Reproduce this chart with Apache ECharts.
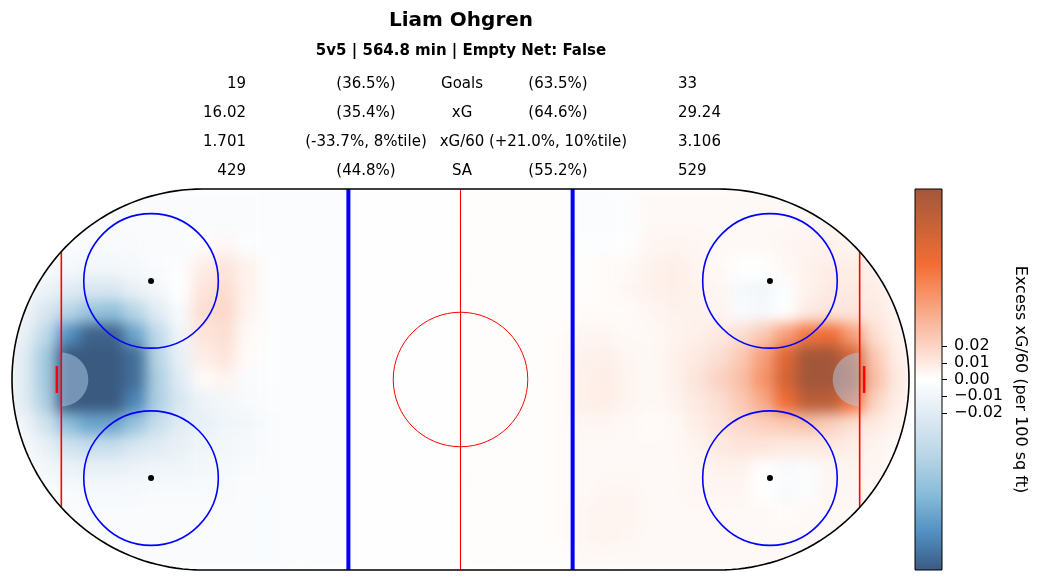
<!DOCTYPE html>
<html><head><meta charset="utf-8">
<script src="https://cdn.jsdelivr.net/npm/echarts@6/dist/echarts.min.js"></script>
<style>
html,body{margin:0;padding:0;background:#fff;}
#wrap{position:relative;width:1041px;height:582px;overflow:hidden;}
#heat,#main{position:absolute;left:0;top:0;width:1041px;height:582px;}
#heat{filter:blur(7px);}
</style></head><body>
<div id="wrap"><div id="heat"></div><div id="main"></div></div>
<script>
// ---------------- data ----------------
const playerName = 'Liam Ohgren';
const subtitle = '5v5 | 564.8 min | Empty Net: False';
const leftValues  = ['19', '16.02', '1.701', '429'];
const leftShares  = ['(36.5%)', '(35.4%)', '(-33.7%, 8%tile)', '(44.8%)'];
const statLabels  = ['Goals', 'xG', 'xG/60', 'SA'];
const rightShares = ['(63.5%)', '(64.6%)', '(+21.0%, 10%tile)', '(55.2%)'];
const rightValues = ['33', '29.24', '3.106', '529'];

const colorbarLabel = 'Excess xG/60 (per 100 sq ft)';
const colorbarTicks = [-0.02, -0.01, 0, 0.01, 0.02];
const VMIN = -0.114, VMAX = 0.114;
const cmapColors = ['#3a5a80','#5290c2','#88bcd9','#b8d5e6','#dde9f2','#ffffff','#fbcebc','#f79e78','#f46d35','#ca6236','#a3573a'];

// grid cell centres (ft)
const xCenters = [-97.5,-92.5,-87.5,-82.5,-77.5,-72.5,-67.5,-62.5,-57.5,-52.5,-47.5,-42.5,-37.5,-32.5,-27.5,-22.5,-17.5,-12.5,-7.5,-2.5,
                  2.5,7.5,12.5,17.5,22.5,27.5,32.5,37.5,42.5,47.5,52.5,57.5,62.5,67.5,72.5,77.5,82.5,87.5,92.5,97.5];
const yCenters = [40,35,30,25,20,15,10,5,0,-5,-10,-15,-20,-25,-30,-35,-40];

// excess xG/60 per cell, one row per yCenter (top to bottom)
const row_p40 = [0,0,0,0,-0.003,-0.004,-0.004,-0.004,-0.004,-0.004,-0.004,-0.003,-0.003,-0.003,-0.003,-0.001,-0.001,-0.001,-0.001,-0.001, 0.001,0.001,0.001,0.001,0.001,-0.003,-0.003,-0.002,0.003,0.003,0.003,0.003,0.003,0.003,0.003,0.003,0,0,0,0];
const row_p35 = [0,0,0,-0.003,-0.004,-0.004,-0.004,-0.004,-0.004,-0.004,-0.004,-0.003,-0.003,-0.003,-0.003,-0.001,-0.001,-0.001,-0.001,-0.001, 0.001,0.001,0.001,0.001,0.001,-0.003,-0.003,-0.002,0.003,0.003,0.003,0.003,0.003,0.003,0.003,0.004,0.004,0.003,0,0];
const row_p30 = [0,0,-0.004,-0.005,-0.005,-0.005,-0.004,-0.004,-0.002,0.004,-0.002,-0.003,-0.003,-0.003,-0.003,-0.001,-0.001,-0.001,-0.001,-0.001, 0.001,0.001,0.001,0.001,0.001,-0.002,-0.002,-0.001,0.004,0.005,0.004,0.003,0.003,0.003,0.004,0.005,0.006,0.005,0.004,0];
const row_p25 = [0,-0.004,-0.006,-0.008,-0.008,-0.006,-0.004,-0.002,0.008,0.012,0.006,-0.002,-0.003,-0.003,-0.003,-0.001,-0.001,-0.001,-0.001,-0.001, 0.001,0.001,0.001,0.001,0.001,0.001,0.002,0.003,0.006,0.008,0.005,0.003,0,0,0.003,0.006,0.008,0.008,0.006,0];
const row_p20 = [-0.005,-0.012,-0.02,-0.025,-0.025,-0.015,-0.008,0,0.012,0.016,0.006,-0.002,-0.003,-0.003,-0.003,-0.001,-0.001,-0.001,-0.001,-0.001, 0.001,0.001,0.001,0.001,0.001,0.001,0.002,0.004,0.006,0.008,0.006,0.004,-0.006,-0.008,-0.002,0.006,0.01,0.01,0.008,0.003];
const row_p15 = [-0.01,-0.025,-0.045,-0.06,-0.065,-0.045,-0.02,-0.005,0.015,0.018,0.005,-0.002,-0.003,-0.003,-0.003,-0.001,-0.001,-0.001,-0.001,-0.001, 0.001,0.001,0.001,0.001,0.001,0.002,0.002,0.002,0.004,0.006,0.006,0.005,-0.004,-0.006,0,0.01,0.012,0.012,0.01,0.005];
const row_p10 = [-0.015,-0.04,-0.09,-0.11,-0.11,-0.08,-0.04,-0.01,0.012,0.015,0.003,-0.002,-0.003,-0.003,-0.003,-0.001,-0.001,-0.001,-0.001,-0.001, 0.001,0.001,0.001,0.001,0.002,0.004,0.004,0.003,0.003,0.005,0.007,0.01,0.015,0.025,0.045,0.065,0.07,0.045,0.015,0.006];
const row_p05 = [-0.02,-0.055,-0.12,-0.13,-0.13,-0.105,-0.045,-0.015,0.008,0.012,0.002,-0.002,-0.003,-0.003,-0.003,-0.001,-0.001,-0.001,-0.001,-0.001, 0.001,0.001,0.001,0.001,0.002,0.006,0.007,0.004,0.003,0.006,0.01,0.015,0.025,0.045,0.08,0.12,0.125,0.085,0.025,0.008];
const row_000 = [-0.02,-0.055,-0.125,-0.13,-0.13,-0.105,-0.05,-0.02,0.002,0.005,-0.004,-0.002,-0.003,-0.003,-0.003,-0.001,-0.001,-0.001,-0.001,-0.001, 0.001,0.001,0.001,0.001,0.002,0.007,0.008,0.005,0.003,0.006,0.012,0.02,0.03,0.05,0.085,0.125,0.13,0.095,0.03,0.01];
const row_m05 = [-0.02,-0.05,-0.115,-0.13,-0.13,-0.095,-0.05,-0.025,-0.012,-0.008,-0.005,-0.003,-0.003,-0.003,-0.003,-0.001,-0.001,-0.001,-0.001,-0.001, 0.001,0.001,0.001,0.001,0.002,0.007,0.008,0.005,0.003,0.005,0.01,0.015,0.025,0.04,0.07,0.1,0.1,0.065,0.02,0.008];
const row_m10 = [-0.01,-0.03,-0.065,-0.08,-0.08,-0.06,-0.035,-0.02,-0.015,-0.01,-0.008,-0.004,-0.003,-0.003,-0.003,-0.001,-0.001,-0.001,-0.001,-0.001, 0.001,0.001,0.001,0.001,0.002,0.004,0.004,0.003,0.002,0.003,0.008,0.012,0.018,0.022,0.025,0.028,0.022,0.015,0.01,0.005];
const row_m15 = [-0.006,-0.015,-0.03,-0.035,-0.035,-0.025,-0.02,-0.015,-0.01,-0.008,-0.006,-0.004,-0.003,-0.003,-0.003,-0.001,-0.001,-0.001,-0.001,-0.001, 0.001,0.001,0.001,0.001,0.002,0.003,0.003,0.003,0.003,0.003,0.005,0.01,0.012,0.012,0.01,0.01,0.01,0.008,0.005,0.003];
const row_m20 = [-0.003,-0.008,-0.012,-0.015,-0.015,-0.012,-0.01,-0.01,-0.008,-0.006,-0.005,-0.004,-0.003,-0.003,-0.003,-0.001,-0.001,-0.001,-0.001,-0.001, 0.001,0.001,0.001,0.001,0.002,0.003,0.003,0.003,0.003,0.003,0.004,0.006,0.006,0,-0.004,-0.003,0.004,0.005,0.004,0.002];
const row_m25 = [0,-0.004,-0.005,-0.006,-0.006,-0.006,-0.005,-0.005,-0.005,-0.005,-0.004,-0.004,-0.003,-0.003,-0.003,-0.001,-0.001,-0.001,-0.001,-0.001, 0.001,0.001,0.001,0.001,0.002,0.003,0.004,0.004,0.003,0.003,0.004,0.004,0.004,0,-0.005,-0.003,0.004,0.004,0.003,0];
const row_m30 = [0,0,-0.004,-0.004,-0.004,-0.004,-0.004,-0.004,-0.004,-0.004,-0.004,-0.004,-0.003,-0.003,-0.003,-0.001,-0.001,-0.001,-0.001,-0.001, 0.001,0.001,0.001,0.001,0.002,0.004,0.005,0.005,0.003,0.003,0.003,0.003,0.003,0.003,0.002,0.003,0.003,0.003,0.002,0];
const row_m35 = [0,0,0,-0.003,-0.004,-0.004,-0.004,-0.004,-0.004,-0.004,-0.004,-0.004,-0.003,-0.003,-0.003,-0.001,-0.001,-0.001,-0.001,-0.001, 0.001,0.001,0.001,0.001,0.002,0.004,0.005,0.004,0.003,0.003,0.003,0.003,0.003,0.003,0.003,0.003,0.003,0.003,0,0];
const row_m40 = [0,0,0,0,-0.003,-0.004,-0.004,-0.004,-0.004,-0.004,-0.004,-0.004,-0.003,-0.003,-0.003,-0.001,-0.001,-0.001,-0.001,-0.001, 0.001,0.001,0.001,0.001,0.001,0.003,0.003,0.003,0.003,0.003,0.003,0.003,0.003,0.003,0.003,0.002,0,0,0,0];
const gridRows = [row_p40,row_p35,row_p30,row_p25,row_p20,row_p15,row_p10,row_p05,row_000,row_m05,row_m10,row_m15,row_m20,row_m25,row_m30,row_m35,row_m40];

// rink geometry (ft)
const RINK_HALF_LEN = 100, RINK_HALF_W = 42.5, END_R = 42.5;
const GOAL_LINE_X = 89, BLUE_LINE_X = 25, CIRCLE_R = 15, CREASE_R = 6, NET_X = 90, NET_HALF = 3;
const faceoffSpots = [[-69, 22], [-69, -22], [69, 22], [69, -22]];

// ---------------- heatmap layer ----------------
const yAsc = yCenters.slice().reverse();
const heatData = [];
gridRows.forEach((row, ri) => {
  const yi = yAsc.indexOf(yCenters[ri]);
  row.forEach((v, xi) => heatData.push([xi, yi, Math.max(VMIN, Math.min(VMAX, v))]));
});
const GRID = {left: 12, top: 189, width: 897, height: 381};

const heat = echarts.init(document.getElementById('heat'), null, {renderer: 'canvas'});
heat.setOption({
  animation: false,
  grid: GRID,
  xAxis: {type: 'category', data: xCenters.map(String), show: false},
  yAxis: {type: 'category', data: yAsc.map(String), show: false},
  visualMap: {show: false, min: VMIN, max: VMAX, dimension: 2, inRange: {color: cmapColors}},
  series: [{type: 'heatmap', data: heatData, progressive: 0, itemStyle: {borderWidth: 0}}]
});

// ---------------- rink + colorbar + text ----------------
function arcPts(cx, cy, r, a0, a1, n) {
  const pts = [];
  for (let i = 0; i <= n; i++) {
    const a = (a0 + (a1 - a0) * i / n) * Math.PI / 180;
    pts.push([cx + r * Math.cos(a), cy + r * Math.sin(a)]);
  }
  return pts;
}
const endCx = RINK_HALF_LEN - END_R;

function rinkRender(params, api) {
  const C = p => api.coord(p);
  const ftPx = api.size([1, 0])[0];
  const ch = [];
  const white = {fill: '#ffffff', stroke: null};
  // mask outside the rink
  ch.push({type: 'polygon', shape: {points: [[-endCx, 48], [-106, 48], [-106, -48], [-endCx, -48]].concat(arcPts(-endCx, 0, END_R, 270, 90, 80)).map(C)}, style: white});
  ch.push({type: 'polygon', shape: {points: [[endCx, 48], [106, 48], [106, -48], [endCx, -48]].concat(arcPts(endCx, 0, END_R, -90, 90, 80)).map(C)}, style: white});
  ch.push({type: 'polygon', shape: {points: [[-endCx, 48], [endCx, 48], [endCx, RINK_HALF_W], [-endCx, RINK_HALF_W]].map(C)}, style: white});
  ch.push({type: 'polygon', shape: {points: [[-endCx, -48], [endCx, -48], [endCx, -RINK_HALF_W], [-endCx, -RINK_HALF_W]].map(C)}, style: white});
  // creases
  ch.push({type: 'polygon', shape: {points: arcPts(-GOAL_LINE_X, 0, CREASE_R, -90, 90, 30).map(C)}, style: {fill: 'rgba(175,205,235,0.5)', stroke: null}});
  ch.push({type: 'polygon', shape: {points: arcPts(GOAL_LINE_X, 0, CREASE_R, 90, 270, 30).map(C)}, style: {fill: 'rgba(175,205,235,0.5)', stroke: null}});
  // goal lines
  const gy = Math.sqrt(END_R * END_R - Math.pow(GOAL_LINE_X - endCx, 2));
  [-GOAL_LINE_X, GOAL_LINE_X].forEach(x => {
    const a = C([x, gy]), b = C([x, -gy]);
    ch.push({type: 'line', shape: {x1: a[0], y1: a[1], x2: b[0], y2: b[1]}, style: {stroke: '#ff0000', lineWidth: 1.6}});
  });
  // nets
  [-NET_X, NET_X].forEach(x => {
    const a = C([x, NET_HALF]), b = C([x, -NET_HALF]);
    ch.push({type: 'line', shape: {x1: a[0], y1: a[1], x2: b[0], y2: b[1]}, style: {stroke: '#ff0000', lineWidth: 2.5}});
  });
  // blue lines
  [-BLUE_LINE_X, BLUE_LINE_X].forEach(x => {
    const a = C([x, RINK_HALF_W]), b = C([x, -RINK_HALF_W]);
    ch.push({type: 'line', shape: {x1: a[0], y1: a[1], x2: b[0], y2: b[1]}, style: {stroke: '#0000ff', lineWidth: 4}});
  });
  // centre line
  {
    const a = C([0, RINK_HALF_W]), b = C([0, -RINK_HALF_W]);
    ch.push({type: 'line', shape: {x1: a[0], y1: a[1], x2: b[0], y2: b[1]}, style: {stroke: '#ff0000', lineWidth: 1.1}});
  }
  // centre circle
  {
    const c = C([0, 0]);
    ch.push({type: 'circle', shape: {cx: c[0], cy: c[1], r: CIRCLE_R * ftPx}, style: {fill: 'none', stroke: '#ff0000', lineWidth: 1}});
  }
  // faceoff circles + dots
  faceoffSpots.forEach(p => {
    const c = C(p);
    ch.push({type: 'circle', shape: {cx: c[0], cy: c[1], r: CIRCLE_R * ftPx}, style: {fill: 'none', stroke: '#0000ff', lineWidth: 1.6}});
    ch.push({type: 'circle', shape: {cx: c[0], cy: c[1], r: 3}, style: {fill: '#000', stroke: null}});
  });
  // boards
  const outline = arcPts(endCx, 0, END_R, 90, -90, 90).concat(arcPts(-endCx, 0, END_R, 270, 90, 90));
  ch.push({type: 'polygon', shape: {points: outline.map(C)}, style: {fill: 'none', stroke: '#000', lineWidth: 1.6}});
  return {type: 'group', children: ch};
}

function colorbarRender(params, api) {
  const top = api.coord([0, VMAX]), bot = api.coord([0, VMIN]);
  const cs = params.coordSys;
  const stops = cmapColors.map((c, i) => ({offset: 1 - i / (cmapColors.length - 1), color: c})).reverse();
  return {type: 'rect', shape: {x: cs.x, y: top[1], width: cs.width, height: bot[1] - top[1]},
          style: {fill: new echarts.graphic.LinearGradient(0, 0, 0, 1, stops), stroke: '#000', lineWidth: 1}};
}

const FONT = '"DejaVu Sans", "Liberation Sans", sans-serif';
const graphics = [];
function txt(x, y, s, align, font) {
  graphics.push({type: 'text', x: x, y: y, z: 100, silent: true,
    style: {text: s, font: font, fill: '#000', align: align, verticalAlign: 'middle', textAlign: align, textVerticalAlign: 'middle'}});
}
txt(461, 21, playerName, 'center', 'bold 20px ' + FONT);
txt(461, 51, subtitle, 'center', 'bold 15px ' + FONT);
const rowY = [84, 113, 142, 171];
rowY.forEach((y, i) => {
  const f = '15px ' + FONT;
  txt(246, y, leftValues[i], 'right', f);
  txt(366, y, leftShares[i], 'center', f);
  txt(462, y, statLabels[i], 'center', f);
  txt(558, y, rightShares[i], 'center', f);
  txt(678, y, rightValues[i], 'left', f);
});

const main = echarts.init(document.getElementById('main'), null, {renderer: 'canvas'});
main.setOption({
  animation: false,
  grid: [GRID, {left: 915, top: 189, width: 27, height: 381}],
  xAxis: [
    {type: 'value', min: -RINK_HALF_LEN, max: RINK_HALF_LEN, show: false},
    {type: 'category', gridIndex: 1, data: ['cb'], show: false}
  ],
  yAxis: [
    {type: 'value', min: -RINK_HALF_W, max: RINK_HALF_W, show: false},
    {type: 'value', gridIndex: 1, min: VMIN, max: VMAX, position: 'right',
     axisLine: {show: false}, splitLine: {show: false},
     axisTick: {show: true, length: 5, lineStyle: {color: '#000', width: 1}, customValues: colorbarTicks},
     axisLabel: {customValues: colorbarTicks, color: '#000', fontSize: 16, fontFamily: FONT, margin: 12,
                 formatter: v => (v < -1e-9 ? '\u2212' : '') + Math.abs(v).toFixed(2)},
     name: colorbarLabel, nameLocation: 'middle', nameRotate: -90, nameGap: 70,
     nameTextStyle: {fontSize: 16, fontFamily: FONT, color: '#000'}}
  ],
  series: [
    {type: 'custom', xAxisIndex: 0, yAxisIndex: 0, data: [[0, 0]], clip: false, silent: true, renderItem: rinkRender, z: 2},
    {type: 'custom', xAxisIndex: 1, yAxisIndex: 1, data: [[0, 0]], clip: false, silent: true, renderItem: colorbarRender, z: 2}
  ],
  graphic: graphics
});
</script></body></html>
